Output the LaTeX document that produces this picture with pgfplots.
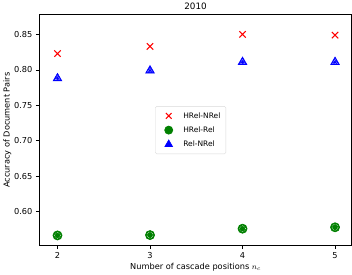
\documentclass[border=0pt]{standalone}
\usepackage{pgfplots}
\pgfplotsset{compat=1.18}
\usepackage{fontspec}
\setmainfont{DejaVu Sans}
\definecolor{mgreen}{RGB}{0,128,0}
\begin{document}
\begin{tikzpicture}
\begin{axis}[
  scale only axis,
  width=312pt, height=231pt,
  xmin=1.805, xmax=5.18,
  ymin=0.552, ymax=0.878,
  xtick={2,3,4,5},
  ytick={0.60,0.65,0.70,0.75,0.80,0.85},
  yticklabel style={/pgf/number format/.cd,fixed,fixed zerofill,precision=2},
  /pgf/number format/assume math mode=true,
  tick align=outside,
  tick pos=left,
  major tick length=3.5pt,
  tick style={black, line width=0.6pt},
  axis line style={black, line width=0.6pt},
  ticklabel style={font=\fontsize{8.2}{9}\selectfont},
  label style={font=\fontsize{8.2}{9}\selectfont},
  title style={font=\fontsize{8.8}{10}\selectfont, yshift=-5pt},
  title={2010},
  xlabel={Number of cascade positions $n_c$},
  ylabel={Accuracy of Document Pairs},
  xlabel style={yshift=3pt},
  ylabel style={yshift=-4pt},
  legend style={at={(0.484,0.5)}, anchor=center, font=\fontsize{7.5}{8}\selectfont,
    draw=black!15, rounded corners=1.5pt, row sep=3pt, inner xsep=3.5pt, inner ysep=4pt},
  legend cell align=left,
  legend image code/.code={\path[draw=none,fill=none] (-0.15cm,0cm) rectangle (0.64cm,0.01cm); \draw[#1,only marks] plot coordinates {(0.2cm,0cm)};},
]
\addplot[only marks, mark=x, mark size=4.5pt, red, line width=1.1pt, legend image post style={mark size=4pt}]
  coordinates {(2,0.823) (3,0.833) (4,0.850) (5,0.849)};
\addlegendentry{HRel-NRel}
\addplot[only marks, mark=*, mark size=4.5pt, mgreen, mark options={fill=mgreen, draw=mgreen, line width=0.8pt}, legend image post style={mark size=4pt}]
  coordinates {(2,0.5665) (3,0.567) (4,0.576) (5,0.578)};
\addlegendentry{HRel-Rel}
\addplot[only marks, mark=triangle*, mark size=5pt, blue, mark options={fill=blue, draw=blue, line width=0.6pt}, legend image post style={mark size=4.4pt}]
  coordinates {(2,0.788) (3,0.799) (4,0.811) (5,0.811)};
\addlegendentry{Rel-NRel}
\addplot[only marks, mark=o, mark size=3pt, white, densely dotted, line width=0.5pt, forget plot]
  coordinates {(2,0.5665) (3,0.567) (4,0.576) (5,0.578)};
\addplot[only marks, mark=triangle, mark size=2.6pt, white, densely dotted, line width=0.5pt, forget plot]
  coordinates {(2,0.788) (3,0.799) (4,0.811) (5,0.811)};
\end{axis}
\end{tikzpicture}
\end{document}
